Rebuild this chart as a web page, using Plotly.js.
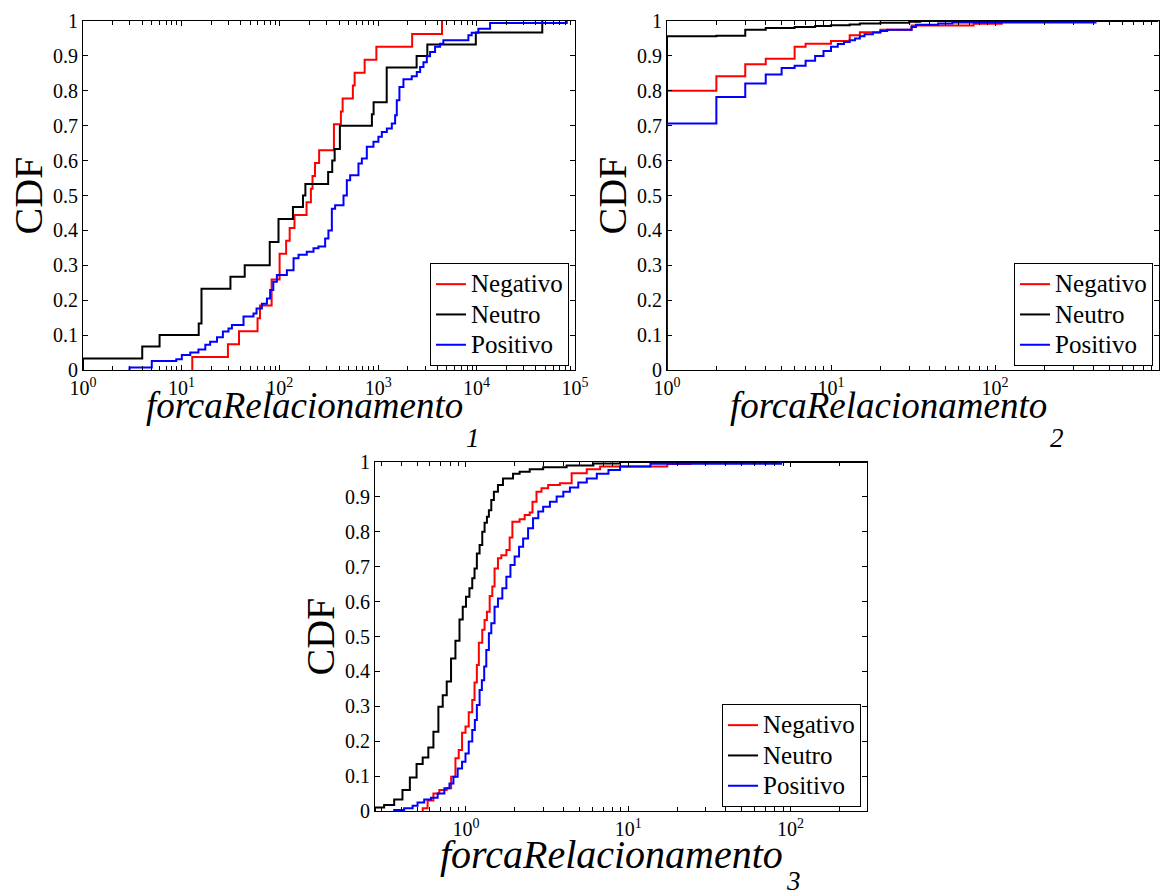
<!DOCTYPE html>
<html>
<head>
<meta charset="utf-8">
<script src="https://cdn.plot.ly/plotly-3.0.1.min.js"></script>
<style>
  html, body { margin: 0; padding: 0; background: #fff; }
  #chart { width: 1171px; height: 891px; }
</style>
</head>
<body>
<div id="chart"></div>
<script>
// ---- series names and colours ----
const seriesNames = ['Negativo', 'Neutro', 'Positivo'];
const seriesColors = ['#ff0000', '#000000', '#0000ff'];

// ---- y tick labels (CDF) ----
const yTickVals = [0, 0.1, 0.2, 0.3, 0.4, 0.5, 0.6, 0.7, 0.8, 0.9, 1];
const yTickText = ['0', '0.1', '0.2', '0.3', '0.4', '0.5', '0.6', '0.7', '0.8', '0.9', '1'];

// ---- panel 1: forcaRelacionamento_1 (empirical CDF steps: value, cumulative fraction) ----
const f1NegX = [12.9, 29.7, 38.5, 59.4, 62.9, 82.6, 99.5, 116, 126, 141, 187, 207, 215, 228, 251, 355, 418, 435, 553, 576, 728, 958, 2213, 4450];
const f1NegY = [0.037, 0.074, 0.111, 0.148, 0.185, 0.259, 0.333, 0.370, 0.407, 0.444, 0.481, 0.519, 0.556, 0.593, 0.630, 0.704, 0.741, 0.778, 0.815, 0.852, 0.889, 0.926, 0.963, 1.0];
const f1NeuX = [1, 4, 6, 15, 16, 31.5, 44, 79, 97, 136, 172, 182, 310, 341, 361, 408, 863, 898, 1220, 2457, 3157, 9820, 46500];
const f1NeuY = [0.033, 0.067, 0.1, 0.133, 0.233, 0.267, 0.3, 0.367, 0.433, 0.467, 0.5, 0.533, 0.567, 0.6, 0.633, 0.7, 0.733, 0.767, 0.867, 0.9, 0.933, 0.967, 1.0];
const f1PosX = [2.97, 5.0, 8.87, 10.1, 12.3, 14.9, 17.5, 19.6, 23, 26.4, 30.1, 32.6, 42.8, 54, 58, 65.8, 74, 79.8, 85.9, 93.4, 118, 138, 155, 188, 220, 247, 289, 312, 338, 365, 444, 480, 519, 630, 682, 766, 895, 1005, 1089, 1224, 1375, 1486, 1545, 1643, 1805, 2193, 2466, 2667, 2883, 3118, 3366, 3786, 4255, 4594, 8248, 8918, 10420, 13710, 82400];
const f1PosY = [0.007, 0.026, 0.031, 0.043, 0.05, 0.059, 0.072, 0.081, 0.094, 0.11, 0.119, 0.129, 0.153, 0.162, 0.176, 0.19, 0.205, 0.229, 0.253, 0.272, 0.286, 0.32, 0.33, 0.339, 0.349, 0.354, 0.377, 0.40, 0.462, 0.472, 0.50, 0.544, 0.558, 0.592, 0.606, 0.64, 0.654, 0.668, 0.682, 0.692, 0.706, 0.73, 0.773, 0.811, 0.833, 0.842, 0.854, 0.868, 0.882, 0.899, 0.911, 0.926, 0.935, 0.945, 0.959, 0.966, 0.978, 0.994, 1.0];

// ---- panel 2: forcaRelacionamento_2 ----
const f2NegX = [1, 2, 3, 4, 6, 7, 10, 13, 15, 20, 31, 74, 110];
const f2NegY = [0.80, 0.842, 0.876, 0.892, 0.926, 0.935, 0.943, 0.959, 0.968, 0.975, 0.987, 0.992, 1.0];
const f2NeuX = [1, 2, 3, 4, 6, 8, 10, 13, 15, 20, 30, 35, 990];
const f2NeuY = [0.956, 0.958, 0.975, 0.98, 0.983, 0.986, 0.988, 0.99, 0.993, 0.995, 0.998, 1.0, 1.0];
const f2PosX = [1, 2, 3, 4, 5, 6, 7, 8, 9, 10, 11, 12, 13, 14, 15, 16, 18, 20, 22, 31, 33, 45, 55, 410];
const f2PosY = [0.706, 0.782, 0.821, 0.847, 0.865, 0.872, 0.886, 0.90, 0.914, 0.926, 0.934, 0.94, 0.945, 0.95, 0.956, 0.962, 0.967, 0.971, 0.975, 0.983, 0.989, 0.993, 0.996, 1.0];

// ---- panel 3: forcaRelacionamento_3 ----
const f3NegX = [0.541, 0.58, 0.63, 0.685, 0.761, 0.81, 0.861, 0.902, 0.946, 0.993, 1.04, 1.093, 1.129, 1.167, 1.2, 1.26, 1.302, 1.346, 1.4, 1.453, 1.5, 1.574, 1.651, 1.774, 1.858, 1.932, 2.14, 2.30, 2.47, 2.57, 2.72, 2.92, 3.21, 3.79, 4.48, 5.55, 6.71, 17.4, 24.2];
const f3NegY = [0.008, 0.03, 0.05, 0.06, 0.065, 0.098, 0.151, 0.175, 0.224, 0.242, 0.283, 0.318, 0.368, 0.418, 0.482, 0.519, 0.547, 0.571, 0.616, 0.643, 0.695, 0.724, 0.733, 0.748, 0.784, 0.829, 0.836, 0.848, 0.855, 0.886, 0.915, 0.925, 0.934, 0.939, 0.968, 0.979, 0.987, 0.994, 1.0];
const f3NeuX = [0.275, 0.313, 0.361, 0.406, 0.451, 0.496, 0.541, 0.586, 0.63, 0.676, 0.719, 0.761, 0.809, 0.861, 0.912, 0.955, 1.0, 1.05, 1.093, 1.129, 1.167, 1.213, 1.26, 1.302, 1.346, 1.384, 1.432, 1.486, 1.574, 1.69, 1.95, 2.14, 2.47, 2.99, 4.17, 6.1, 8.9, 296];
const f3NeuY = [0.01, 0.017, 0.033, 0.06, 0.096, 0.135, 0.153, 0.182, 0.227, 0.299, 0.332, 0.371, 0.437, 0.488, 0.549, 0.585, 0.614, 0.638, 0.667, 0.695, 0.738, 0.762, 0.80, 0.826, 0.843, 0.862, 0.891, 0.915, 0.934, 0.953, 0.966, 0.972, 0.979, 0.985, 0.99, 0.996, 1.0, 1.0];
const f3PosX = [0.361, 0.416, 0.469, 0.503, 0.553, 0.609, 0.669, 0.736, 0.791, 0.837, 0.889, 0.946, 0.993, 1.04, 1.093, 1.134, 1.167, 1.213, 1.253, 1.295, 1.334, 1.384, 1.432, 1.5, 1.574, 1.675, 1.774, 1.879, 1.995, 2.124, 2.25, 2.414, 2.59, 2.79, 2.99, 3.29, 3.62, 3.98, 4.37, 4.92, 5.55, 6.4, 7.55, 8.9, 13.7, 87.6];
const f3PosY = [0.003, 0.008, 0.015, 0.024, 0.033, 0.038, 0.05, 0.065, 0.079, 0.098, 0.122, 0.141, 0.165, 0.199, 0.232, 0.261, 0.304, 0.347, 0.375, 0.414, 0.461, 0.509, 0.538, 0.585, 0.609, 0.638, 0.671, 0.705, 0.729, 0.757, 0.781, 0.81, 0.839, 0.858, 0.872, 0.886, 0.901, 0.915, 0.927, 0.941, 0.953, 0.966, 0.977, 0.987, 0.995, 1.0];

// ---- axis labels ----
const yTitle = 'CDF';
const xTitleBase = 'forcaRelacionamento';
const xTitleSubs = ['1', '2', '3'];

// ---- x axis ranges ----
const x1Range = [1, 1e5];
const x2Range = [1, 1e3];
const x3Range = [0.275, 296];

const FONT = 'Liberation Serif';
const W = 1171, H = 891;

// pixel boxes of the three plot areas, plus the x-label placement for each
const boxes = [
  { l: 83,  r: 575,  t: 21,  b: 370, titleSize: 37, titleDx: -25, titleDy: 36, subDx: 160, subDy: 68 },
  { l: 667, r: 1159, t: 21,  b: 370, titleSize: 37, titleDx: -25, titleDy: 36, subDx: 160, subDy: 68 },
  { l: 375, r: 867,  t: 462, b: 811, titleSize: 40, titleDx: -10, titleDy: 43, subDx: 173, subDy: 70 }
];

function px2x(p) { return p / W; }
function px2y(p) { return 1 - p / H; }

// decade ticks and 2..9 minor ticks for a log axis
function logTicks(range) {
  const lo = Math.floor(Math.log10(range[0]) + 1e-9);
  const hi = Math.ceil(Math.log10(range[1]) - 1e-9);
  const major = [], text = [], minor = [];
  for (let e = lo; e <= hi; e++) {
    const v = Math.pow(10, e);
    if (v >= range[0] * 0.999 && v <= range[1] * 1.001) {
      major.push(v);
      text.push('10<sup>' + e + '</sup>');
    }
    for (let m = 2; m <= 9; m++) {
      const mv = m * v;
      if (mv > range[0] && mv < range[1]) minor.push(mv);
    }
  }
  return { major, text, minor };
}

function xAxis(i, range) {
  const b = boxes[i];
  const t = logTicks(range);
  return {
    type: 'log',
    domain: [px2x(b.l), px2x(b.r)],
    range: [Math.log10(range[0]), Math.log10(range[1])],
    anchor: i === 0 ? 'y' : 'y' + (i + 1),
    showline: true, linecolor: '#000', linewidth: 1, mirror: 'ticks',
    ticks: 'inside', ticklen: 5, tickwidth: 1, tickcolor: '#000',
    tickmode: 'array', tickvals: t.major, ticktext: t.text,
    tickfont: { family: FONT, size: 20, color: '#000' },
    minor: { tickmode: 'array', tickvals: t.minor, ticks: 'inside', ticklen: 4, tickwidth: 1, tickcolor: '#000', showgrid: false },
    showgrid: false, zeroline: false, fixedrange: true
  };
}

function yAxis(i) {
  const b = boxes[i];
  return {
    domain: [px2y(b.b), px2y(b.t)],
    range: [0, 1],
    anchor: i === 0 ? 'x' : 'x' + (i + 1),
    showline: true, linecolor: '#000', linewidth: 1, mirror: 'ticks',
    ticks: 'inside', ticklen: 5, tickwidth: 1, tickcolor: '#000',
    tickmode: 'array', tickvals: yTickVals, ticktext: yTickText,
    tickfont: { family: FONT, size: 20, color: '#000' },
    showgrid: false, zeroline: false, fixedrange: true
  };
}

// stair CDF trace: starts at zero at the first value
function cdfTrace(xs, ys, s, panel) {
  const suffix = panel === 0 ? '' : String(panel + 1);
  return {
    type: 'scatter', mode: 'lines',
    x: [xs[0]].concat(xs), y: [0].concat(ys),
    line: { shape: 'hv', color: seriesColors[s], width: 2 },
    // entry text is set a little larger than the row spacing allows for
    name: '<span style="font-size:25px">' + seriesNames[s] + '</span>',
    xaxis: 'x' + suffix, yaxis: 'y' + suffix,
    legend: 'legend' + suffix,
    hoverinfo: 'skip'
  };
}

const panelData = [
  [[f1NegX, f1NegY], [f1NeuX, f1NeuY], [f1PosX, f1PosY]],
  [[f2NegX, f2NegY], [f2NeuX, f2NeuY], [f2PosX, f2PosY]],
  [[f3NegX, f3NegY], [f3NeuX, f3NeuY], [f3PosX, f3PosY]]
];

const traces = [];
panelData.forEach((series, p) => {
  series.forEach((d, s) => traces.push(cdfTrace(d[0], d[1], s, p)));
});

function legendAt(i) {
  const b = boxes[i];
  return {
    x: px2x(b.r - 6), y: px2y(b.b - 4), xanchor: 'right', yanchor: 'bottom',
    bgcolor: '#fff', bordercolor: '#000', borderwidth: 1,
    font: { family: FONT, size: 21, color: '#000' },
    itemwidth: 30, tracegroupgap: 0, traceorder: 'normal'
  };
}

const annotations = [];
boxes.forEach((b, i) => {
  // y axis label
  annotations.push({
    xref: 'paper', yref: 'paper', x: px2x(b.l - 55), y: px2y((b.t + b.b) / 2),
    xanchor: 'center', yanchor: 'middle', textangle: -90, showarrow: false,
    text: yTitle, font: { family: FONT, size: 40, color: '#000' }
  });
  // x axis label with subscript
  const cx = (b.l + b.r) / 2 + b.titleDx;
  annotations.push({
    xref: 'paper', yref: 'paper', x: px2x(cx), y: px2y(b.b + b.titleDy),
    xanchor: 'center', yanchor: 'middle', showarrow: false,
    text: '<i>' + xTitleBase + '</i>', font: { family: FONT, size: b.titleSize, color: '#000' }
  });
  annotations.push({
    xref: 'paper', yref: 'paper', x: px2x(cx + b.subDx), y: px2y(b.b + b.subDy),
    xanchor: 'left', yanchor: 'middle', showarrow: false,
    text: '<i>' + xTitleSubs[i] + '</i>', font: { family: FONT, size: 27, color: '#000' }
  });
});

const layout = {
  width: W, height: H,
  margin: { l: 0, r: 0, t: 0, b: 0 },
  font: { family: FONT, color: '#000' },
  paper_bgcolor: '#fff', plot_bgcolor: '#fff',
  showlegend: true,
  xaxis: xAxis(0, x1Range), yaxis: yAxis(0),
  xaxis2: xAxis(1, x2Range), yaxis2: yAxis(1),
  xaxis3: xAxis(2, x3Range), yaxis3: yAxis(2),
  legend: legendAt(0), legend2: legendAt(1), legend3: legendAt(2),
  annotations: annotations
};

Plotly.newPlot('chart', traces, layout, { staticPlot: true, displayModeBar: false });
</script>
</body>
</html>
